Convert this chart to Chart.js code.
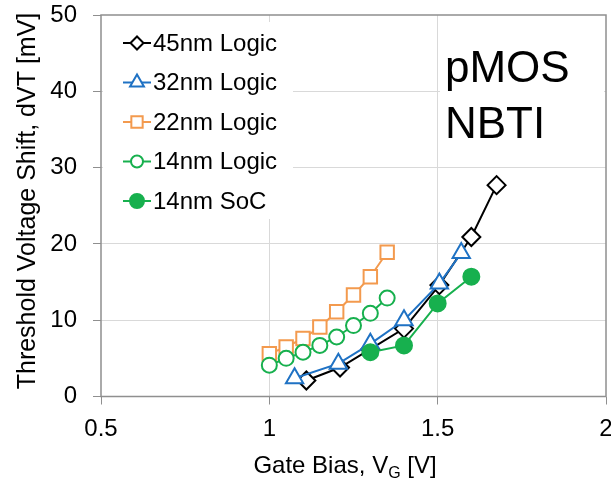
<!DOCTYPE html>
<html>
<head>
<meta charset="utf-8">
<script src="https://cdn.jsdelivr.net/npm/chart.js@4/dist/chart.umd.min.js"></script>
<style>
  html, body { margin: 0; padding: 0; background: #fff; }
  #wrap { width: 611px; height: 480px; }
</style>
</head>
<body>
<div id="wrap"><canvas id="chart"></canvas></div>
<script>
const seriesNames = ['45nm Logic', '32nm Logic', '22nm Logic', '14nm Logic', '14nm SoC'];

const gate45 = [1.11, 1.21, 1.30, 1.40, 1.505, 1.60, 1.675];
const shift45 = [2.1, 3.8, 6.2, 8.9, 14.6, 20.9, 27.7];

const gate32 = [1.075, 1.205, 1.30, 1.40, 1.505, 1.57];
const shift32 = [2.4, 4.3, 6.9, 10.0, 14.8, 18.8];

const gate22 = [1.0, 1.05, 1.1, 1.15, 1.2, 1.25, 1.3, 1.35];
const shift22 = [5.6, 6.5, 7.6, 9.1, 11.1, 13.3, 15.7, 18.9];

const gate14 = [1.0, 1.05, 1.1, 1.15, 1.2, 1.25, 1.3, 1.35];
const shift14 = [4.1, 5.0, 5.8, 6.7, 7.8, 9.3, 10.9, 12.9];

const gateSoc = [1.3, 1.4, 1.5, 1.6];
const shiftSoc = [5.8, 6.7, 12.2, 15.7];

const xTicks = [0.5, 1, 1.5, 2];
const yTicks = [0, 10, 20, 30, 40, 50];

const FONT = '"Liberation Sans", Arial, sans-serif';
const AXIS_GREY = '#8f8f8f';

// marker look per series: colour, shape, size on plot, size in legend, hollow?
const looks = [
    { color: '#000000', shape: 'rectRot', r: 9, lr: 6.5, hollow: true },
    { color: '#1f72c4', shape: 'triangle', r: 10, lr: 8, hollow: true },
    { color: '#f39a4e', shape: 'rect', r: 9.5, lr: 8, hollow: true },
    { color: '#17b04e', shape: 'circle', r: 7.5, lr: 6, hollow: true },
    { color: '#17b04e', shape: 'circle', r: 8, lr: 7, hollow: false },
];

const xs = [gate45, gate32, gate22, gate14, gateSoc];
const ys = [shift45, shift32, shift22, shift14, shiftSoc];

const datasets = seriesNames.map((name, i) => ({
    label: name,
    data: xs[i].map((x, j) => ({ x: x, y: ys[i][j] })),
    borderColor: looks[i].color,
    borderWidth: 2,
    pointStyle: looks[i].shape,
    pointRadius: looks[i].r,
    pointHoverRadius: looks[i].r,
    pointBorderWidth: 2,
    pointBorderColor: looks[i].color,
    pointBackgroundColor: looks[i].hollow ? '#ffffff' : looks[i].color,
    fill: false,
    tension: 0,
    order: seriesNames.length - 1 - i,
}));

// white boxes for legend / title, legend entries, frame
const overlay = {
    id: 'overlay',
    beforeDatasetsDraw(chart) {
        const ctx = chart.ctx;
        const a = chart.chartArea;
        ctx.save();
        ctx.fillStyle = '#ffffff';
        ctx.fillRect(103, 22, 190, 197);
        ctx.fillRect(440, 28, 164, 126);

        ctx.strokeStyle = AXIS_GREY;
        ctx.lineWidth = 1.5;
        ctx.strokeRect(a.left, a.top, a.right - a.left, a.bottom - a.top);

        chart.data.datasets.forEach((ds, i) => {
            const y = 43 + i * 39.5;
            ctx.strokeStyle = ds.borderColor;
            ctx.lineWidth = 2;
            ctx.beginPath();
            ctx.moveTo(123, y);
            ctx.lineTo(151, y);
            ctx.stroke();
            ctx.fillStyle = ds.pointBackgroundColor;
            Chart.helpers.drawPoint(ctx, { pointStyle: ds.pointStyle, radius: looks[i].lr, borderWidth: 2, rotation: 0 }, 137, y);

            ctx.fillStyle = '#000';
            ctx.font = '24px ' + FONT;
            ctx.textAlign = 'left';
            ctx.textBaseline = 'middle';
            ctx.fillText(ds.label, 153, y + 1);
        });

        ctx.font = '44px ' + FONT;
        ctx.textBaseline = 'alphabetic';
        ctx.fillText('pMOS', 445, 82);
        ctx.fillText('NBTI', 445, 138);
        ctx.restore();
    },
    afterDraw(chart) {
        const ctx = chart.ctx;
        ctx.save();
        ctx.fillStyle = '#000';

        // y title
        ctx.translate(28, 201);
        ctx.rotate(-Math.PI / 2);
        ctx.font = '25px ' + FONT;
        ctx.textAlign = 'center';
        ctx.textBaseline = 'middle';
        ctx.fillText('Threshold Voltage Shift, dVT [mV]', 0, 0);
        ctx.setTransform(1, 0, 0, 1, 0, 0);

        // x title with subscript
        const main = 'Gate Bias, V';
        const sub = 'G';
        const tail = ' [V]';
        ctx.textAlign = 'left';
        ctx.textBaseline = 'alphabetic';
        ctx.font = '24px ' + FONT;
        const w1 = ctx.measureText(main).width;
        const w3 = ctx.measureText(tail).width;
        ctx.font = '16px ' + FONT;
        const w2 = ctx.measureText(sub).width;
        let x = 345 - (w1 + w2 + w3) / 2;
        ctx.font = '24px ' + FONT;
        ctx.fillText(main, x, 473);
        x += w1;
        ctx.font = '16px ' + FONT;
        ctx.fillText(sub, x, 478);
        x += w2;
        ctx.font = '24px ' + FONT;
        ctx.fillText(tail, x, 473);
        ctx.restore();
    },
};

const gridColor = (edgeMin, edgeMax) => c =>
    (c.tick && (c.tick.value === edgeMin || c.tick.value === edgeMax)) ? 'rgba(0,0,0,0)' : '#d9d9d9';

new Chart(document.getElementById('chart').getContext('2d'), {
    type: 'line',
    data: { datasets: datasets },
    options: {
        responsive: true,
        maintainAspectRatio: false,
        animation: false,
        layout: { autoPadding: false, padding: { top: 15, right: 5, left: 0, bottom: 0 } },
        plugins: {
            legend: { display: false },
            tooltip: { enabled: false },
        },
        scales: {
            x: {
                type: 'linear',
                min: 0.5,
                max: 2,
                afterBuildTicks: scale => { scale.ticks = xTicks.map(v => ({ value: v })); },
                afterFit: scale => {
                    scale.height = 83.5;
                    scale.paddingLeft = 0;
                    scale.paddingRight = 0;
                },
                ticks: {
                    color: '#000',
                    font: { family: FONT, size: 24 },
                    padding: 10,
                    maxRotation: 0,
                    callback: v => String(v),
                },
                grid: {
                    color: gridColor(0.5, 2),
                    tickColor: AXIS_GREY,
                    tickLength: 8,
                    lineWidth: 1,
                },
                border: { display: false },
            },
            y: {
                type: 'linear',
                min: 0,
                max: 50,
                afterBuildTicks: scale => { scale.ticks = yTicks.map(v => ({ value: v })); },
                afterFit: scale => {
                    scale.width = 101;
                    scale.paddingTop = 0;
                    scale.paddingBottom = 0;
                },
                ticks: {
                    color: '#000',
                    font: { family: FONT, size: 24 },
                    padding: 16,
                    callback: v => String(v),
                },
                grid: {
                    color: gridColor(0, 50),
                    tickColor: AXIS_GREY,
                    tickLength: 8,
                    lineWidth: 1,
                },
                border: { display: false },
            },
        },
    },
    plugins: [overlay],
});
</script>
</body>
</html>
